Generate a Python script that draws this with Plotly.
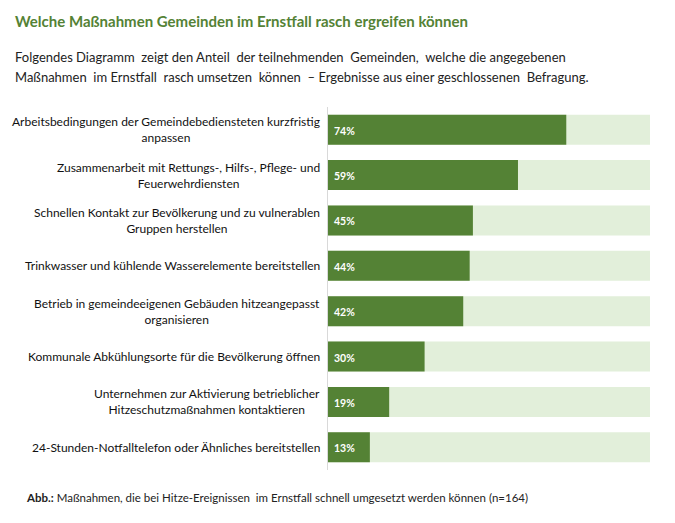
import plotly.graph_objects as go

categories = [
    "Arbeitsbedingungen der Gemeindebediensteten kurzfristig<br>anpassen",
    "Zusammenarbeit mit Rettungs-, Hilfs-, Pflege- und<br>Feuerwehrdiensten",
    "Schnellen Kontakt zur Bevölkerung und zu vulnerablen<br>Gruppen herstellen",
    "Trinkwasser und kühlende Wasserelemente bereitstellen",
    "Betrieb in gemeindeeigenen Gebäuden hitzeangepasst<br>organisieren",
    "Kommunale Abkühlungsorte für die Bevölkerung öffnen",
    "Unternehmen zur Aktivierung betrieblicher<br>Hitzeschutzmaßnahmen kontaktieren",
    "24-Stunden-Notfalltelefon oder Ähnliches bereitstellen",
]
values = [74, 59, 45, 44, 42, 30, 19, 13]
track = [100] * len(categories)

FONT = "Lato"
DARK = "#548235"
LIGHT = "#E2EFDA"

W, H = 675, 523
OFF = 8  # page body margin
L, R, T, B = 328 - OFF, W - (650 - OFF), 107 - OFF, H - (470 - OFF)

ids = list(range(len(categories)))

fig = go.Figure()
fig.add_trace(go.Bar(y=ids, x=track, orientation="h", marker=dict(color=LIGHT, line_width=0),
                     width=0.66, hoverinfo="skip", showlegend=False))
fig.add_trace(go.Bar(y=ids, x=values, orientation="h", marker=dict(color=DARK, line_width=0),
                     width=0.66, showlegend=False))

for i, (c, v) in enumerate(zip(categories, values)):
    fig.add_annotation(x=0, y=i, xref="x", yref="y", text=c, showarrow=False,
                       xanchor="right", yanchor="middle", align="center", xshift=-6,
                       font=dict(family=FONT, size=12, color="#111111"))
    fig.add_annotation(x=0, y=i, xref="x", yref="y", text=f"<b>{v}%</b>", showarrow=False,
                       xanchor="left", yanchor="middle", xshift=4, yshift=-1,
                       font=dict(family=FONT, size=10.5, color="white"))


def px(xp, yp):
    xp -= OFF
    yp -= OFF
    return (xp - L) / (W - L - R), 1 - (yp - T) / (H - T - B)


def add_text(xp, yp, text, size, color):
    x, y = px(xp, yp)
    fig.add_annotation(x=x, y=y, xref="paper", yref="paper", text=text, showarrow=False,
                       xanchor="left", yanchor="middle",
                       font=dict(family=FONT, size=size, color=color))


add_text(13, 21, "<b>Welche Maßnahmen Gemeinden im Ernstfall rasch ergreifen können</b>", 15, DARK)
add_text(13, 57, "Folgendes Diagramm  zeigt den Anteil  der teilnehmenden  Gemeinden,  welche die angegebenen", 13, "#222222")
add_text(13, 77, "Maßnahmen  im Ernstfall  rasch umsetzen  können  – Ergebnisse aus einer geschlossenen  Befragung.", 13, "#222222")
add_text(24, 497, "<b>Abb.:</b> Maßnahmen, die bei Hitze-Ereignissen  im Ernstfall schnell umgesetzt werden können (n=164)", 11.5, "#222222")

fig.update_layout(
    width=W, height=H,
    margin=dict(l=L, r=R, t=T, b=B),
    paper_bgcolor="white", plot_bgcolor="white",
    barmode="overlay",
    font=dict(family=FONT),
    xaxis=dict(range=[0, 100], visible=False, fixedrange=True),
    yaxis=dict(range=[7.5, -0.5], showticklabels=False, showgrid=False, zeroline=False,
               showline=True, linecolor="#d9d9d9", linewidth=1, ticks=""),
)

fig.write_html("out.html")
